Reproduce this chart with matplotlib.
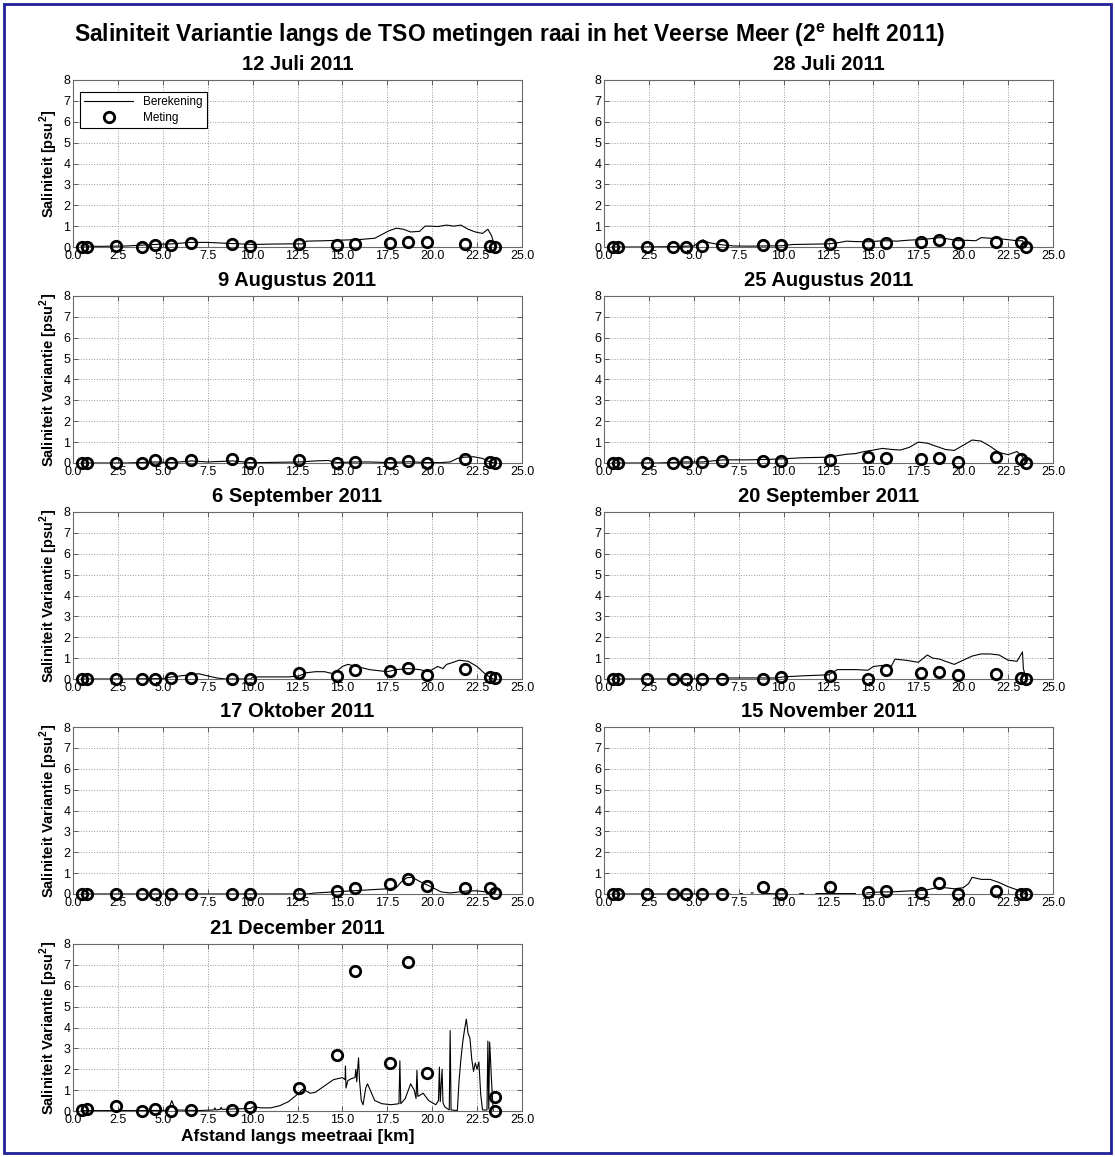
#!/usr/bin/env python3
"""
Saliniteit variantie langs de TSO meetraai in het Veerse Meer (2e helft 2011)
Berekening (lijn) versus meting (cirkels) voor 9 meetdagen.
"""

import numpy as np
import matplotlib
matplotlib.use('Agg')
import matplotlib.pyplot as plt
from matplotlib.patches import Rectangle
from matplotlib.ticker import FormatStrFormatter

plt.rcParams['font.family'] = ['Liberation Sans', 'DejaVu Sans']
plt.rcParams['mathtext.fontset'] = 'custom'
plt.rcParams['mathtext.rm'] = 'Liberation Sans'
plt.rcParams['mathtext.bf'] = 'Liberation Sans:bold'

nan = np.nan

# ---------------------------------------------------------------------------
# Data
# ---------------------------------------------------------------------------
station_km = [0.5, 0.8, 2.4, 3.85, 4.55, 5.45, 6.55, 8.85, 9.87, 12.6,
              14.7, 15.72, 17.63, 18.68, 19.7, 21.8, 23.2, 23.47]

dates = ['12 Juli 2011', '28 Juli 2011', '9 Augustus 2011', '25 Augustus 2011',
         '6 September 2011', '20 September 2011', '17 Oktober 2011',
         '15 November 2011', '21 December 2011']

# 12 Juli
jul12_calc_x = [0.45, 1.5, 3.0, 4.5, 5.5, 6.5, 7.5, 8.5, 9.3, 10.0, 11.0, 12.0, 12.8,
                13.0, 14.0, 15.0, 16.0, 16.8, 17.2, 17.6, 18.0, 18.4, 18.8, 19.3, 19.6,
                19.9, 20.3, 20.8, 21.2, 21.6, 22.0, 22.4, 22.8, 23.1, 23.3, 23.5]
jul12_calc_y = [0.05, 0.03, 0.05, 0.12, 0.15, 0.22, 0.22, 0.18, 0.15, 0.12, 0.14, 0.15, 0.15,
                0.28, 0.3, 0.33, 0.36, 0.42, 0.6, 0.78, 0.9, 0.85, 0.72, 0.75, 1.0,
                1.0, 0.98, 1.05, 1.0, 1.05, 0.85, 0.72, 0.65, 0.85, 0.55, 0.0]
jul12_meas = [0.0, 0.0, 0.03, 0.0, 0.1, 0.1, 0.18, 0.15, 0.05, 0.15,
              0.1, 0.15, 0.2, 0.22, 0.25, 0.15, 0.05, 0.0]

# 28 Juli
jul28_calc_x = [0.45, 2.0, 4.0, 5.0, 5.5, 5.8, 6.2, 6.6, 7.2, 8.0, 9.0, 9.9, 10.5, 12.5,
                13.0, 13.5, 14.0, 14.7, 15.2, 15.7, 16.3, 17.0, 17.6, 18.2, 18.7, 19.2,
                19.7, 20.2, 20.7, 21.0, 21.5, 22.0, 22.5, 23.0, 23.3, 23.5]
jul28_calc_y = [0.0, 0.0, 0.02, 0.05, 0.35, 0.22, 0.15, 0.1, 0.05, 0.04, 0.05, 0.06, 0.12, 0.15,
                0.2, 0.28, 0.26, 0.25, 0.28, 0.3, 0.28, 0.33, 0.35, 0.4, 0.45, 0.38,
                0.3, 0.32, 0.3, 0.45, 0.42, 0.4, 0.35, 0.3, 0.3, 0.0]
jul28_meas = [0.0, 0.0, 0.0, 0.0, 0.0, 0.03, 0.08, 0.1, 0.08, 0.15,
              0.13, 0.19, 0.24, 0.35, 0.19, 0.24, 0.24, 0.0]

# 9 Augustus
aug09_calc_x = [0.45, 3.0, 4.6, 5.5, 6.6, 7.5, 8.9, 9.9, 10.5, 12.6, 13.5, 14.2, 14.7,
                15.7, 16.5, 17.6, 18.7, 19.7, 20.5, 21.0, 21.4, 21.8, 22.3, 22.8, 23.2, 23.5]
aug09_calc_y = [0.0, 0.0, 0.05, 0.02, 0.1, 0.05, 0.1, 0.02, 0.02, 0.05, 0.1, 0.12, 0.02,
                0.05, 0.05, 0.02, 0.06, 0.02, 0.02, 0.05, 0.22, 0.28, 0.3, 0.22, 0.05, 0.0]
aug09_meas = [0.0, 0.0, 0.02, 0.0, 0.15, 0.0, 0.15, 0.2, 0.0, 0.15,
              0.0, 0.05, 0.02, 0.08, 0.02, 0.2, 0.05, 0.0]

# 25 Augustus
aug25_calc_x = [0.45, 3.0, 4.6, 5.5, 6.6, 8.0, 9.0, 10.0, 11.0, 12.5, 13.0, 13.5, 14.0,
                14.5, 15.0, 15.5, 16.0, 16.5, 17.0, 17.5, 18.0, 18.5, 19.0, 19.5, 20.0,
                20.5, 21.0, 21.5, 22.0, 22.5, 23.0, 23.3, 23.5]
aug25_calc_y = [0.0, 0.0, 0.05, 0.05, 0.15, 0.15, 0.17, 0.2, 0.25, 0.28, 0.35, 0.42, 0.45,
                0.55, 0.62, 0.7, 0.65, 0.62, 0.75, 1.0, 0.95, 0.8, 0.65, 0.6, 0.85,
                1.1, 1.05, 0.8, 0.5, 0.4, 0.55, 0.3, 0.0]
aug25_meas = [0.0, 0.0, 0.0, 0.0, 0.05, 0.03, 0.1, 0.08, 0.08, 0.15,
              0.28, 0.25, 0.2, 0.25, 0.05, 0.3, 0.2, 0.0]

# 6 September
sep06_calc_x = [0.45, 3.0, 5.0, 5.5, 6.5, 7.0, 7.5, 8.0, 8.5, 9.9, 10.0, 12.0, 12.6, 13.0,
                13.5, 14.0, 14.5, 15.0, 15.3, 15.8, 16.5, 17.0, 17.5, 18.0, 18.7, 19.3,
                19.8, 20.3, 20.6, 20.8, 21.0, 21.5, 22.0, 22.5, 23.0, 23.4]
sep06_calc_y = [0.0, 0.0, 0.02, 0.1, 0.2, 0.25, 0.15, 0.05, 0.0, 0.0, 0.1, 0.1, 0.15, 0.3,
                0.35, 0.35, 0.25, 0.6, 0.7, 0.6, 0.45, 0.4, 0.35, 0.45, 0.5, 0.45,
                0.35, 0.6, 0.5, 0.7, 0.75, 0.9, 0.85, 0.6, 0.2, 0.0]
sep06_meas = [0.0, 0.0, 0.0, 0.0, 0.0, 0.05, 0.03, 0.0, 0.0, 0.28,
              0.12, 0.45, 0.4, 0.55, 0.2, 0.5, 0.1, 0.05]

# 20 September
sep20_calc_x = [0.45, 4.0, 6.6, 7.0, 9.5, 10.0, 11.0, 12.5, 13.0, 14.0, 14.7, 15.0, 15.5,
                16.0, 16.2, 16.8, 17.5, 18.0, 18.3, 18.7, 19.0, 19.5, 20.0, 20.5, 21.0,
                21.5, 22.0, 22.5, 23.0, 23.3, 23.35, 23.5]
sep20_calc_y = [0.0, 0.0, 0.02, 0.05, 0.05, 0.1, 0.15, 0.2, 0.45, 0.45, 0.42, 0.6, 0.65,
                0.62, 0.95, 0.9, 0.8, 1.15, 1.0, 0.95, 0.85, 0.7, 0.9, 1.1, 1.2,
                1.2, 1.15, 0.9, 0.85, 1.3, 0.5, 0.0]
sep20_meas = [0.0, 0.0, 0.0, 0.0, 0.0, 0.0, 0.0, 0.0, 0.1, 0.15,
              0.0, 0.42, 0.3, 0.35, 0.2, 0.25, 0.05, 0.0]

# 17 Oktober
okt17_calc_x = [0.45, 13.0, 13.5, 14.5, 15.5, 16.5, 17.5, 18.0, 18.3, 18.6, 18.9, 19.3,
                19.8, 20.5, 21.0, 21.5, 22.0, 22.5, 23.0, 23.5]
okt17_calc_y = [0.0, 0.0, 0.05, 0.1, 0.15, 0.2, 0.25, 0.3, 0.6, 0.78, 0.8, 0.6,
                0.4, 0.1, 0.05, 0.1, 0.15, 0.15, 0.1, 0.0]
okt17_meas = [0.0, 0.0, 0.0, 0.0, 0.0, 0.0, 0.0, 0.0, 0.0, 0.0,
              0.12, 0.3, 0.5, 0.7, 0.4, 0.28, 0.3, 0.05]

# 15 November (model line has small gaps)
nov15_calc_x = [0.45, 7.0, 7.3, 7.6, 7.7, 8.0, 8.2, 8.3, 8.6, 9.0, 10.0, 10.5, 10.9, 11.1,
                11.5, 11.8, 14.0, 14.3, 14.6, 15.0, 15.5, 16.0, 17.0, 17.5, 18.0, 18.5,
                19.0, 19.5, 20.0, 20.3, 20.5, 21.0, 21.5, 22.0, 22.5, 23.0, 23.5]
nov15_calc_y = [0.0, 0.0, nan, 0.02, 0.02, nan, 0.05, 0.05, nan, 0.02, 0.0, nan, 0.02, 0.02,
                nan, 0.02, 0.02, nan, 0.05, 0.08, 0.1, 0.1, 0.15, 0.15, 0.2, 0.3,
                0.3, 0.25, 0.3, 0.5, 0.8, 0.7, 0.7, 0.55, 0.35, 0.2, 0.0]
nov15_meas = [0.0, 0.0, 0.0, 0.0, 0.0, 0.0, 0.0, 0.35, 0.0, 0.35,
              0.08, 0.12, 0.03, 0.55, 0.0, 0.15, 0.0, 0.0]

# 21 December
dec21_calc_x = [0.45, 2.0, 4.0, 5.3, 5.5, 5.7, 7.0, 7.85, 7.9, 7.95, 8.2, 8.25, 8.3, 9.0,
                9.9, 10.0, 10.5, 11.0, 11.5, 12.0, 12.5, 12.8, 13.2, 13.5, 14.0, 14.5,
                15.0, 15.15, 15.17, 15.2, 15.3, 15.5, 15.7, 15.75, 15.8, 15.85, 15.9,
                15.95, 16.0, 16.05, 16.15, 16.3, 16.4, 16.6, 16.8, 17.2, 17.7, 18.15,
                18.2, 18.25, 18.5, 18.8, 19.0, 19.1, 19.15, 19.2, 19.5, 19.8, 20.2,
                20.35, 20.4, 20.45, 20.55, 20.6, 20.7, 20.95, 21.0, 21.05, 21.4, 21.5,
                21.6, 21.7, 21.8, 21.9, 22.0, 22.1, 22.2, 22.3, 22.4, 22.5, 22.6, 22.7,
                22.8, 23.05, 23.1, 23.15, 23.2, 23.3, 23.4]
dec21_calc_y = [0.02, 0.02, 0.02, 0.03, 0.5, 0.05, 0.02, 0.05, 0.15, 0.05, 0.08, 0.18, 0.08, 0.1,
                0.12, 0.2, 0.15, 0.15, 0.25, 0.45, 0.8, 1.05, 0.85, 0.9, 1.2, 1.5,
                1.6, 1.5, 2.15, 1.1, 1.45, 1.55, 1.6, 2.0, 1.4, 2.0, 2.55,
                1.5, 1.0, 0.5, 0.3, 1.1, 1.3, 0.9, 0.5, 0.35, 0.3, 0.35,
                2.4, 0.35, 0.6, 1.3, 1.0, 0.6, 1.95, 0.7, 0.85, 0.5, 0.3,
                0.5, 2.1, 0.45, 2.0, 0.4, 0.2, 0.05, 3.85, 0.05, 0.02, 1.5,
                2.5, 3.3, 3.9, 4.4, 3.7, 3.5, 2.5, 1.9, 2.3, 2.0, 2.35, 0.8,
                0.05, 0.05, 3.35, 0.1, 3.3, 1.5, 0.0]
dec21_meas_x = [0.5, 0.8, 2.4, 3.85, 4.55, 5.45, 6.55, 8.85, 9.87, 12.6,
                14.7, 15.72, 17.63, 18.68, 19.7, 23.47, 23.5]
dec21_meas = [0.05, 0.1, 0.22, 0.0, 0.08, 0.0, 0.05, 0.05, 0.19, 1.1,
              2.68, 6.73, 2.29, 7.13, 1.81, 0.67, 0.0]

calc_x = [jul12_calc_x, jul28_calc_x, aug09_calc_x, aug25_calc_x, sep06_calc_x,
          sep20_calc_x, okt17_calc_x, nov15_calc_x, dec21_calc_x]
calc_y = [jul12_calc_y, jul28_calc_y, aug09_calc_y, aug25_calc_y, sep06_calc_y,
          sep20_calc_y, okt17_calc_y, nov15_calc_y, dec21_calc_y]
meas_x = [station_km] * 8 + [dec21_meas_x]
meas_y = [jul12_meas, jul28_meas, aug09_meas, aug25_meas, sep06_meas,
          sep20_meas, okt17_meas, nov15_meas, dec21_meas]

# ---------------------------------------------------------------------------
# Layout (pixels of a 1115 x 1157 figure)
# ---------------------------------------------------------------------------
FIG_W, FIG_H = 1115, 1157
COL_LEFT = [73, 604]
ROW_BOTTOM = [247, 463, 679, 894, 1111]
AX_W, AX_H = 449, 167


def style_axes(ax):
    ax.set_xlim(0, 25)
    ax.set_ylim(0, 8)
    ax.set_xticks(np.arange(0, 25.01, 2.5))
    ax.set_yticks(np.arange(0, 9, 1))
    ax.xaxis.set_major_formatter(FormatStrFormatter('%.1f'))
    ax.grid(True, linestyle=':', color='#9a9a9a', linewidth=0.7)
    ax.tick_params(direction='in', top=True, right=True, length=3.5, width=0.6,
                   labelsize=9, color='#444444', pad=2)
    for spine in ax.spines.values():
        spine.set_color('#6a6a6a')
        spine.set_linewidth(0.8)


fig = plt.figure(figsize=(FIG_W / 100, FIG_H / 100), dpi=100)

for i, title in enumerate(dates):
    row, col = divmod(i, 2)
    rect = [COL_LEFT[col] / FIG_W, 1 - ROW_BOTTOM[row] / FIG_H, AX_W / FIG_W, AX_H / FIG_H]
    ax = fig.add_axes(rect)
    style_axes(ax)

    ax.plot(calc_x[i], calc_y[i], color='black', linewidth=0.8, label='Berekening')
    ax.plot(meas_x[i], meas_y[i], linestyle='none', marker='o', markersize=7.5,
            markerfacecolor='none', markeredgecolor='black', markeredgewidth=2.0,
            clip_on=False, zorder=5, label='Meting')

    ax.set_title(title, fontsize=14.5, fontweight='bold', pad=7)

    if col == 0:
        if i == 0:
            ax.set_ylabel(r'Saliniteit [psu$^{\mathbf{2}}$]', fontsize=10.5,
                          fontweight='bold', labelpad=2)
        else:
            ax.set_ylabel(r'Saliniteit Variantie [psu$^{\mathbf{2}}$]', fontsize=10.5,
                          fontweight='bold', labelpad=2)
    if i == 8:
        ax.set_xlabel('Afstand langs meetraai [km]', fontsize=12.5, fontweight='bold', labelpad=2)

    if i == 0:
        leg = ax.legend(loc='upper left', bbox_to_anchor=(0.015, 0.93), fontsize=8.5,
                        handlelength=4.2, fancybox=False, framealpha=1, borderpad=0.35,
                        labelspacing=0.35, handletextpad=0.8, borderaxespad=0)
        leg.get_frame().set_edgecolor('black')
        leg.get_frame().set_linewidth(0.8)

fig.text(0.457, 1 - 35 / FIG_H,
         r'Saliniteit Variantie langs de TSO metingen raai in het Veerse Meer (2$^{\mathbf{e}}$ helft 2011)',
         ha='center', va='center', fontsize=16.5, fontweight='bold')

# dark blue frame around the whole picture
fig.patches.append(Rectangle((4 / FIG_W, 4 / FIG_H), 1 - 8 / FIG_W, 1 - 8 / FIG_H,
                             transform=fig.transFigure, fill=False,
                             edgecolor='#20209a', linewidth=2))

fig.savefig('out.png', dpi=100)
